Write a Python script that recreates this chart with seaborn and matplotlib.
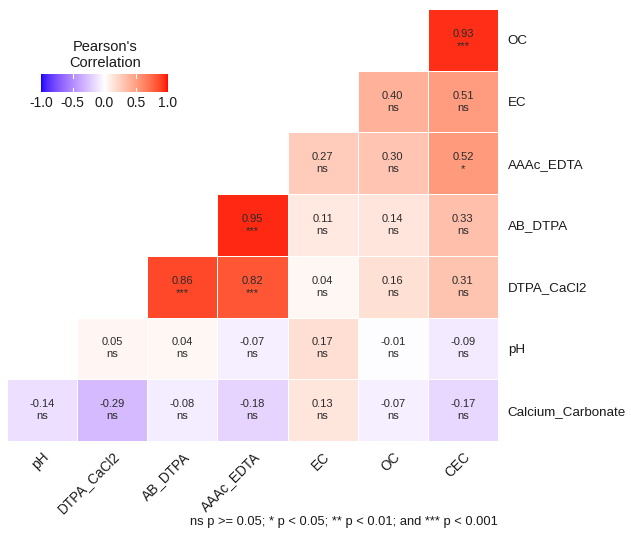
import numpy as np
import matplotlib
matplotlib.use("Agg")
import matplotlib.pyplot as plt
import seaborn as sns
from matplotlib.colors import LinearSegmentedColormap, Normalize
from matplotlib.cm import ScalarMappable

# rows top -> bottom, columns left -> right
row_names = ["OC", "EC", "AAAc_EDTA", "AB_DTPA", "DTPA_CaCl2", "pH", "Calcium_Carbonate"]
col_names = ["pH", "DTPA_CaCl2", "AB_DTPA", "AAAc_EDTA", "EC", "OC", "CEC"]

# correlations per row, None = empty (upper) cell
r_oc = [None, None, None, None, None, None, 0.93]
r_ec = [None, None, None, None, None, 0.40, 0.51]
r_aaac = [None, None, None, None, 0.27, 0.30, 0.52]
r_ab = [None, None, None, 0.95, 0.11, 0.14, 0.33]
r_dtpa = [None, None, 0.86, 0.82, 0.04, 0.16, 0.31]
r_ph = [None, 0.05, 0.04, -0.07, 0.17, -0.01, -0.09]
r_caco3 = [-0.14, -0.29, -0.08, -0.18, 0.13, -0.07, -0.17]

# significance marks, same layout
s_oc = [None, None, None, None, None, None, "***"]
s_ec = [None, None, None, None, None, "ns", "ns"]
s_aaac = [None, None, None, None, "ns", "ns", "*"]
s_ab = [None, None, None, "***", "ns", "ns", "ns"]
s_dtpa = [None, None, "***", "***", "ns", "ns", "ns"]
s_ph = [None, "ns", "ns", "ns", "ns", "ns", "ns"]
s_caco3 = ["ns", "ns", "ns", "ns", "ns", "ns", "ns"]

corr_rows = [r_oc, r_ec, r_aaac, r_ab, r_dtpa, r_ph, r_caco3]
sig_rows = [s_oc, s_ec, s_aaac, s_ab, s_dtpa, s_ph, s_caco3]

caption = "ns p >= 0.05; * p < 0.05; ** p < 0.01; and *** p < 0.001"


# ggplot-like gradient2 (interpolated in Lab space)
def to_lab(rgb):
    c = np.array(rgb, dtype=float)
    c = np.where(c > 0.04045, ((c + 0.055) / 1.055) ** 2.4, c / 12.92)
    m = np.array([[0.4124, 0.3576, 0.1805], [0.2126, 0.7152, 0.0722], [0.0193, 0.1192, 0.9505]])
    xyz = m @ c / np.array([0.95047, 1.0, 1.08883])
    f = np.where(xyz > 0.008856, np.cbrt(xyz), 7.787 * xyz + 16 / 116)
    return np.array([116 * f[1] - 16, 500 * (f[0] - f[1]), 200 * (f[1] - f[2])])


def from_lab(lab):
    fy = (lab[0] + 16) / 116
    f = np.array([fy + lab[1] / 500, fy, fy - lab[2] / 200])
    xyz = np.where(f ** 3 > 0.008856, f ** 3, (f - 16 / 116) / 7.787) * np.array([0.95047, 1.0, 1.08883])
    m = np.array([[3.2406, -1.5372, -0.4986], [-0.9689, 1.8758, 0.0415], [0.0557, -0.2040, 1.0570]])
    c = m @ xyz
    c = np.where(c > 0.0031308, 1.055 * np.clip(c, 0, None) ** (1 / 2.4) - 0.055, 12.92 * c)
    return np.clip(c, 0, 1)


lab_blue, lab_white, lab_red = to_lab([0, 0, 1]), to_lab([1, 1, 1]), to_lab([1, 0, 0])
colors = []
for t in np.linspace(-1, 1, 256):
    if t < 0:
        colors.append(from_lab(lab_white + (lab_blue - lab_white) * (-t)))
    else:
        colors.append(from_lab(lab_white + (lab_red - lab_white) * t))
cmap = LinearSegmentedColormap.from_list("gg2", colors)

vals = np.array([[np.nan if v is None else v for v in r] for r in corr_rows])
labels = np.array([["" if v is None else f"{v:.2f}\n{s}" for v, s in zip(r, sr)]
                   for r, sr in zip(corr_rows, sig_rows)], dtype=object)

plt.rcParams["font.family"] = ["Liberation Sans", "DejaVu Sans"]
fig = plt.figure(figsize=(6.31, 5.35), dpi=100)
ax = fig.add_axes([7 / 631, 1 - 441 / 535, 491 / 631, 432 / 535])

sns.heatmap(vals, ax=ax, cmap=cmap, vmin=-1, vmax=1, mask=np.isnan(vals),
            annot=labels, fmt="", annot_kws={"fontsize": 8, "color": "#2a2a2a", "linespacing": 1.25},
            linewidths=0.6, linecolor="white", cbar=False,
            xticklabels=col_names, yticklabels=row_names)

ax.yaxis.tick_right()
ax.tick_params(axis="both", length=0)
ax.tick_params(axis="y", pad=7)
ax.set_yticklabels(row_names, rotation=0, fontsize=9.6, color="#1a1a1a")
ax.set_xticklabels(col_names, rotation=45, ha="right", va="top",
                   rotation_mode="anchor", fontsize=9.8, color="#1a1a1a")
ax.tick_params(axis="x", pad=6)

# legend colorbar
cax = fig.add_axes([41 / 631, 1 - 92 / 535, 127 / 631, 18 / 535])
sm = ScalarMappable(norm=Normalize(-1, 1), cmap=cmap)
cb = fig.colorbar(sm, cax=cax, orientation="horizontal")
cb.outline.set_visible(False)
cb.set_ticks([-1, -0.5, 0, 0.5, 1])
cb.set_ticklabels(["-1.0", "-0.5", "0.0", "0.5", "1.0"])
cax.tick_params(length=0, labelsize=10, pad=3, colors="#1a1a1a")
for t in [-0.5, 0, 0.5]:
    cax.plot([t, t], [0, 0.2], color="white", lw=0.8)
    cax.plot([t, t], [0.8, 1], color="white", lw=0.8)
cax.set_ylim(0, 1)
fig.text(105 / 631, 1 - 55 / 535, "Pearson's\nCorrelation", ha="center", va="center",
         fontsize=10.5, color="#1a1a1a", linespacing=1.1)

fig.text(498 / 631, 1 - 522 / 535, caption, ha="right", va="center", fontsize=9.3, color="#1a1a1a")

fig.savefig("out.png", dpi=100)
